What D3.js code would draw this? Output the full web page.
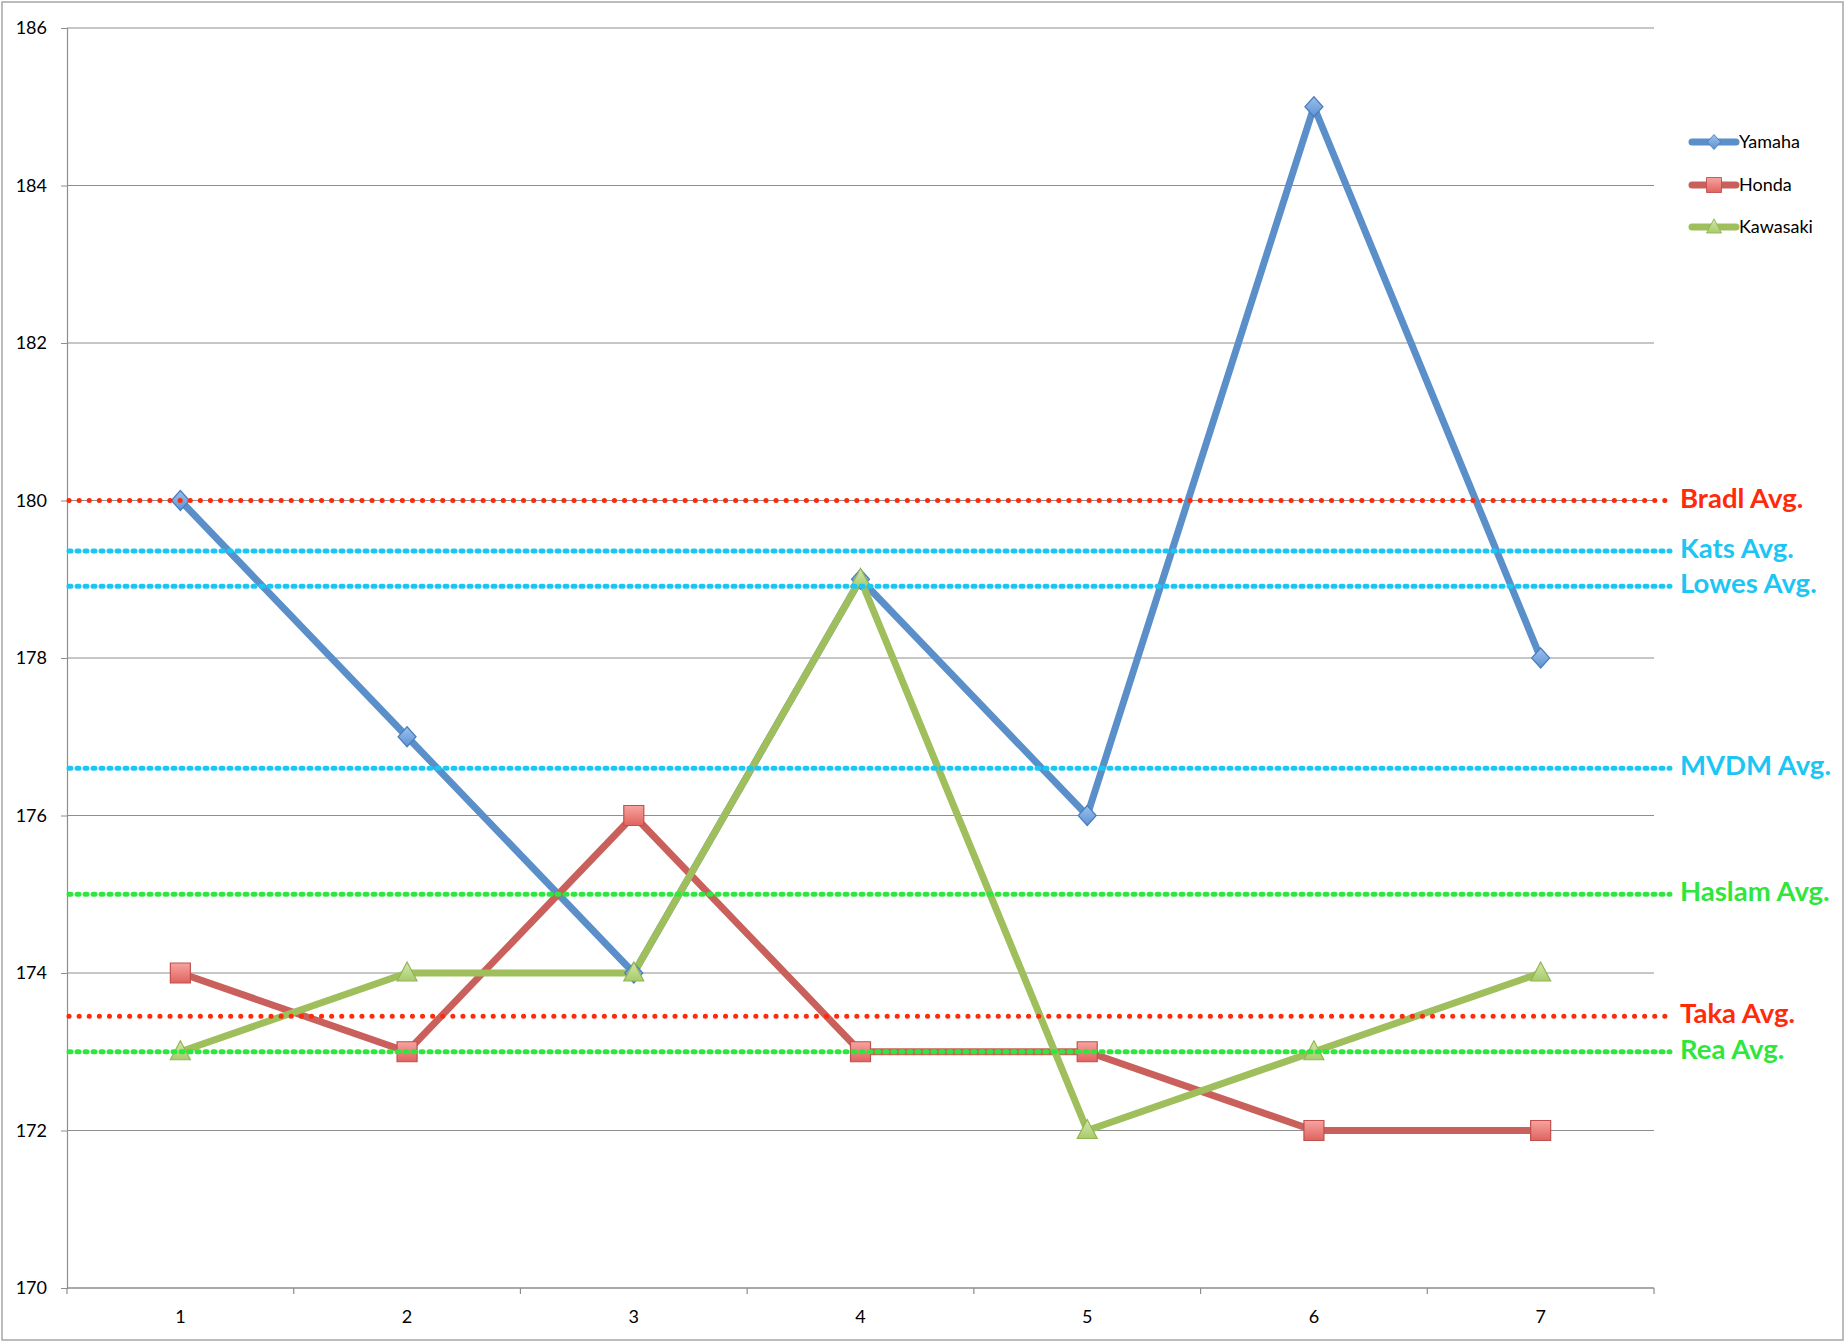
<!DOCTYPE html>
<html>
<head>
<meta charset="utf-8">
<script src="https://cdn.jsdelivr.net/npm/d3@7"></script>
<style>
html,body{margin:0;padding:0;background:#fff;}
svg{display:block;}
</style>
</head>
<body>
<svg id="chart" width="1845" height="1342"></svg>
<script>
// ---- data ----
const categories = [1, 2, 3, 4, 5, 6, 7];
const yamaha   = [180, 177, 174, 179, 176, 185, 178];
const honda    = [174, 173, 176, 173, 173, 172, 172];
const kawasaki = [173, 174, 174, 179, 172, 173, 174];
const seriesNames = ["Yamaha", "Honda", "Kawasaki"];
const yTicks = [170, 172, 174, 176, 178, 180, 182, 184, 186];
const avgNames  = ["Bradl Avg.", "Kats Avg.", "Lowes Avg.", "MVDM Avg.", "Haslam Avg.", "Taka Avg.", "Rea Avg."];
const avgValues = [180, 179.36, 178.91, 176.6, 175, 173.45, 173];
const avgGroups = ["red", "cyan", "cyan", "cyan", "green", "red", "green"];

// ---- layout / style ----
const W = 1845, H = 1342;
const plot = {left: 67, right: 1654, top: 28, bottom: 1288};
const svg = d3.select("#chart");
const font = "Lato, 'Open Sans', 'Liberation Sans', sans-serif";

const x = d3.scaleBand().domain(categories).range([plot.left, plot.right]).padding(0);
const xc = d => x(d) + x.bandwidth() / 2;
const y = d3.scaleLinear().domain([170, 186]).range([plot.bottom, plot.top]);

const avgColors = {red: "#ff2a0a", cyan: "#1cc6f4", green: "#2ee63c"};
const avgDash = {red: "0.1,10", cyan: "2,6", green: "2,6"};

const defs = svg.append("defs");
function grad(id, c1, c2) {
  const g = defs.append("linearGradient").attr("id", id).attr("x1", 0).attr("y1", 0).attr("x2", 0).attr("y2", 1);
  g.append("stop").attr("offset", "0%").attr("stop-color", c1);
  g.append("stop").attr("offset", "100%").attr("stop-color", c2);
}
grad("gY", "#9cc1ee", "#5d92d2");
grad("gH", "#f7a4a1", "#e0625e");
grad("gK", "#d2e8ae", "#a8cb6c");

const series = [
  {name: seriesNames[0], values: yamaha,   color: "#5b8fca", stroke: "#4a7dbb", fill: "url(#gY)", sym: "diamond"},
  {name: seriesNames[1], values: honda,    color: "#c9605c", stroke: "#c0504d", fill: "url(#gH)", sym: "square"},
  {name: seriesNames[2], values: kawasaki, color: "#9fbe5c", stroke: "#93b552", fill: "url(#gK)", sym: "triangle"}
];

function markerPath(sym) {
  if (sym === "diamond") return "M0,-10L9,0L0,10L-9,0Z";
  if (sym === "square") return "M-10,-10H10V10H-10Z";
  return "M0,-11L10,8H-10Z";
}

// outer border
svg.append("rect").attr("x", 2).attr("y", 2).attr("width", W - 4).attr("height", H - 4)
  .attr("fill", "none").attr("stroke", "#a6a6a6").attr("stroke-width", 1.5);

// gridlines
svg.append("g").selectAll("line").data(yTicks.filter(t => t !== 170)).join("line")
  .attr("x1", plot.left).attr("x2", plot.right)
  .attr("y1", d => y(d)).attr("y2", d => y(d))
  .attr("stroke", "#8e8e8e").attr("stroke-width", 1);

// y axis
const yAxis = svg.append("g").attr("transform", `translate(${plot.left},0)`)
  .call(d3.axisLeft(y).tickValues(yTicks).tickSize(6).tickPadding(14).tickFormat(d3.format("d")));
yAxis.select(".domain").attr("stroke", "#8e8e8e").attr("stroke-width", 1.2);
yAxis.selectAll(".tick line").attr("stroke", "#8e8e8e");
yAxis.selectAll("text").attr("font-family", font).attr("font-size", 18).attr("fill", "#000");

// x axis
const xAxis = svg.append("g").attr("transform", `translate(0,${plot.bottom})`)
  .call(d3.axisBottom(x).tickSize(0).tickPadding(22));
xAxis.select(".domain").remove();
xAxis.selectAll("text").attr("font-family", font).attr("font-size", 18).attr("fill", "#000");
svg.append("line").attr("x1", plot.left).attr("x2", plot.right).attr("y1", plot.bottom).attr("y2", plot.bottom)
  .attr("stroke", "#8e8e8e").attr("stroke-width", 1.5);
const bounds = categories.map(c => x(c)).concat([plot.right]);
svg.append("g").selectAll("line").data(bounds).join("line")
  .attr("x1", d => d).attr("x2", d => d).attr("y1", plot.bottom).attr("y2", plot.bottom + 6)
  .attr("stroke", "#8e8e8e").attr("stroke-width", 1.2);

// series lines
const line = d3.line().x((d, i) => xc(categories[i])).y(d => y(d));
series.forEach(s => {
  svg.append("path").datum(s.values).attr("d", line)
    .attr("fill", "none").attr("stroke", s.color).attr("stroke-width", 7)
    .attr("stroke-linejoin", "round").attr("stroke-linecap", "round");
});
series.forEach(s => {
  svg.append("g").selectAll("path").data(s.values).join("path")
    .attr("d", markerPath(s.sym))
    .attr("transform", (d, i) => `translate(${xc(categories[i])},${y(d)})`)
    .attr("fill", s.fill).attr("stroke", s.stroke).attr("stroke-width", 1.2);
});

// average lines
avgValues.forEach((v, i) => {
  const g = avgGroups[i];
  svg.append("line").attr("x1", plot.left + 2).attr("x2", 1670)
    .attr("y1", y(v)).attr("y2", y(v))
    .attr("stroke", avgColors[g]).attr("stroke-width", 5)
    .attr("stroke-dasharray", avgDash[g]).attr("stroke-linecap", "round");
  svg.append("text").attr("x", 1680).attr("y", y(v) + 7)
    .attr("font-family", font).attr("font-weight", "bold").attr("font-size", 27.5)
    .attr("fill", avgColors[g]).text(avgNames[i]);
});

// legend
const legY = [142, 185, 227];
series.forEach((s, i) => {
  const g = svg.append("g").attr("transform", `translate(0,${legY[i]})`);
  g.append("line").attr("x1", 1692).attr("x2", 1736).attr("y1", 0).attr("y2", 0)
    .attr("stroke", s.color).attr("stroke-width", 7).attr("stroke-linecap", "round");
  g.append("path").attr("d", markerPath(s.sym))
    .attr("transform", "translate(1714,0) scale(0.75)")
    .attr("fill", s.fill).attr("stroke", s.stroke).attr("stroke-width", 1.2);
  g.append("text").attr("x", 1739).attr("y", 6).attr("font-family", font)
    .attr("font-size", 18).attr("fill", "#000").text(s.name);
});
</script>
</body>
</html>
